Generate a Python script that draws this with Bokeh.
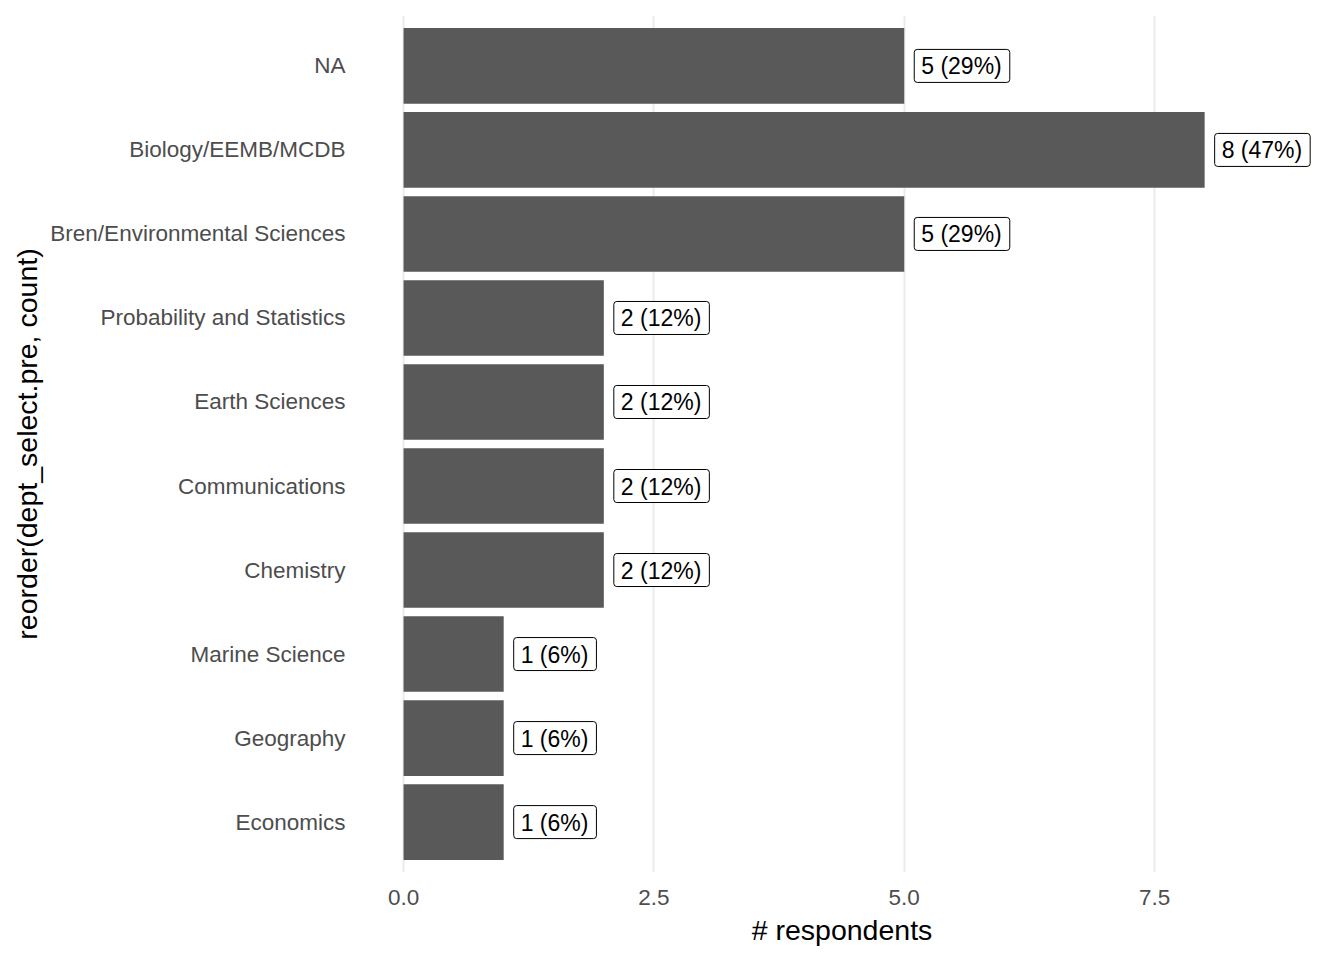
from bokeh.plotting import figure
from bokeh.models import ColumnDataSource, FixedTicker, Range1d, FactorRange
from bokeh.core.properties import value
from bokeh.embed import file_html
from bokeh.resources import INLINE

# Data (top to bottom as in the reference)
departments = ["NA", "Biology/EEMB/MCDB", "Bren/Environmental Sciences",
               "Probability and Statistics", "Earth Sciences", "Communications",
               "Chemistry", "Marine Science", "Geography", "Economics"]
counts = [5, 8, 5, 2, 2, 2, 2, 1, 1, 1]
labels = ["5 (29%)", "8 (47%)", "5 (29%)", "2 (12%)", "2 (12%)", "2 (12%)",
          "2 (12%)", "1 (6%)", "1 (6%)", "1 (6%)"]
x_ticks = [0, 2.5, 5, 7.5]
x_tick_labels = ["0.0", "2.5", "5.0", "7.5"]

FONT = "Liberation Sans"

src = ColumnDataSource(dict(dept=departments, count=counts, label=labels))

factors = list(reversed(departments))
p = figure(width=1344, height=960, output_backend="svg", toolbar_location=None,
           y_range=FactorRange(factors=factors, range_padding=0.02),
           x_range=Range1d(-0.4, 9.157),
           min_border_left=363, min_border_right=24, min_border_top=15,
           min_border_bottom=88)
p.outline_line_color = None
p.background_fill_color = "white"

p.hbar(y="dept", right="count", left=0, height=0.9, source=src,
       fill_color="#595959", line_color=None)

p.text(x="count", y="dept", text="label", source=src,
       text_font=value(FONT), text_font_size="23px", text_color="black",
       text_align="left", text_baseline="middle", x_offset=10,
       background_fill_color="white", border_line_color="black",
       border_line_width=1, padding=dict(left=7, right=8, top=4, bottom=3),
       border_radius=3)

# Axes
p.xaxis.ticker = FixedTicker(ticks=x_ticks)
p.xaxis.major_label_overrides = {t: l for t, l in zip(x_ticks, x_tick_labels)}
for ax in (p.xaxis[0], p.yaxis[0]):
    ax.axis_line_color = None
    ax.major_tick_line_color = None
    ax.minor_tick_line_color = None
    ax.major_label_text_font = FONT
    ax.major_label_text_font_size = "22.5px"
    ax.major_label_text_color = "#4D4D4D"
    ax.axis_label_text_font = FONT
    ax.axis_label_text_font_size = "28.5px"
    ax.axis_label_text_color = "black"
    ax.axis_label_text_font_style = "normal"

p.xaxis.axis_label = "# respondents"
p.yaxis.axis_label = "reorder(dept_select.pre, count)"
p.xaxis.major_label_standoff = 11
p.xaxis.axis_label_standoff = 6
p.yaxis.major_label_standoff = 12
p.yaxis.axis_label_standoff = 4

p.xgrid.ticker = FixedTicker(ticks=x_ticks)
p.xgrid.grid_line_color = "#EBEBEB"
p.xgrid.grid_line_width = 2
p.ygrid.grid_line_color = None

open("out.html", "w").write(file_html(p, INLINE))
